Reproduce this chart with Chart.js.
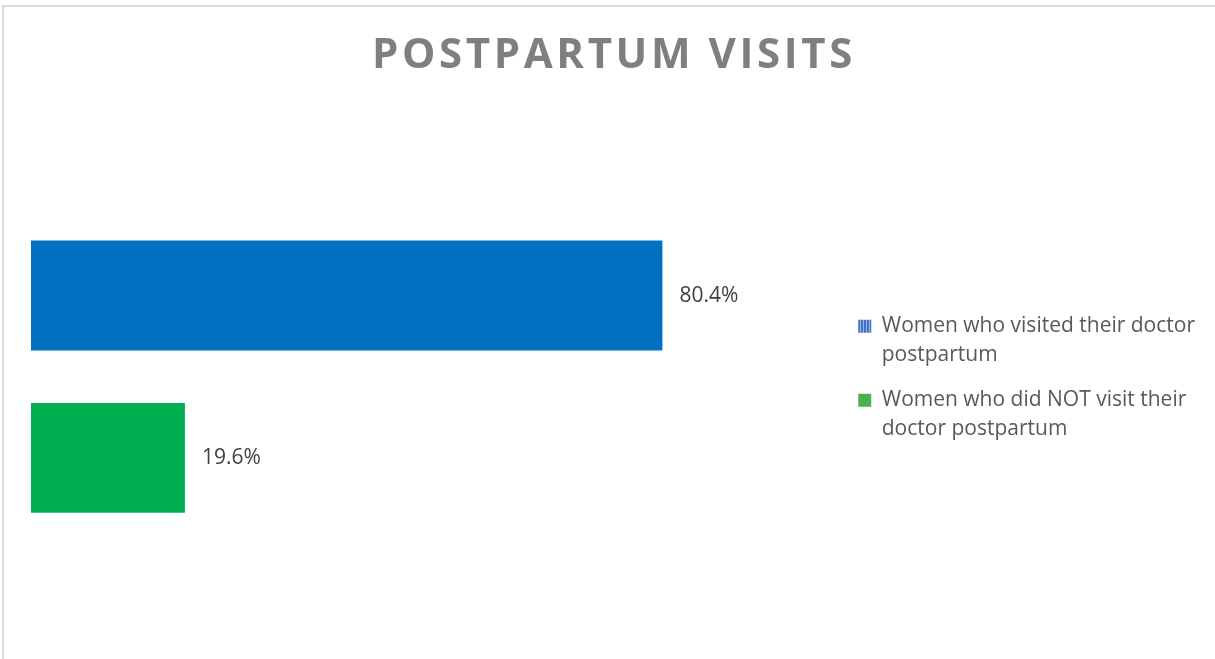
<!DOCTYPE html>
<html>
<head>
<meta charset="utf-8">
<script src="https://cdn.jsdelivr.net/npm/chart.js@4.4.1/dist/chart.umd.min.js"></script>
<style>
  html, body { margin: 0; padding: 0; background: #fff; overflow: hidden; }
  #wrap { position: relative; width: 1215px; height: 659px; }
  #frame { position: absolute; left: 2px; top: 5px; width: 1400px; height: 900px;
           border: 2px solid #d9d9d9; box-sizing: border-box; pointer-events: none; }
  canvas { position: absolute; left: 0; top: 0; }
</style>
</head>
<body>
<div id="wrap">
  <canvas id="c" width="1215" height="659"></canvas>
  <div id="frame"></div>
</div>
<script>
const chartTitle = "POSTPARTUM VISITS";
const categories = [
  ["Women who visited their doctor", "postpartum"],
  ["Women who did NOT visit their", "doctor postpartum"]
];
const values = [80.4, 19.6];
const valueLabels = ["80.4%", "19.6%"];
const barColors = ["#0070C0", "#00B050"];

function stripePattern() {
  const p = document.createElement('canvas');
  p.width = 3; p.height = 3;
  const g = p.getContext('2d');
  g.fillStyle = '#9fb6e2'; g.fillRect(0, 0, 3, 3);
  g.fillStyle = '#4472C4'; g.fillRect(0, 0, 2, 3);
  return g.createPattern(p, 'repeat');
}
const legendFills = [stripePattern(), "#4CAF50"];

const valueLabelPlugin = {
  id: 'valueLabels',
  afterDatasetsDraw(chart) {
    const ctx = chart.ctx;
    const meta = chart.getDatasetMeta(0);
    ctx.save();
    ctx.font = '21px "Open Sans"';
    ctx.fillStyle = '#404040';
    ctx.textAlign = 'left';
    ctx.textBaseline = 'middle';
    meta.data.forEach((bar, i) => {
      ctx.fillText(valueLabels[i], bar.x + 17, bar.y);
    });
    ctx.restore();
  }
};

const boxTweakPlugin = {
  id: 'boxTweak',
  afterLayout(chart) {
    const tb = chart.titleBlock;
    if (tb && !tb._patched) {
      const orig = tb.draw.bind(tb);
      tb.draw = function () {
        chart.ctx.save();
        chart.ctx.letterSpacing = '3.6px';
        chart.ctx.translate(-4, 0);
        orig();
        chart.ctx.restore();
      };
      tb._patched = true;
    }
    const lg = chart.legend;
    if (lg && !lg._patched) {
      const origL = lg.draw.bind(lg);
      lg.draw = function () {
        chart.ctx.save();
        chart.ctx.translate(0, 5);
        origL();
        chart.ctx.restore();
      };
      lg._patched = true;
    }
  }
};

new Chart(document.getElementById('c'), {
  type: 'bar',
  data: {
    labels: categories,
    datasets: [{
      data: values,
      backgroundColor: barColors,
      borderWidth: 0,
      categoryPercentage: 1,
      barPercentage: 0.677
    }]
  },
  plugins: [valueLabelPlugin, boxTweakPlugin],
  options: {
    indexAxis: 'y',
    responsive: false,
    animation: false,
    devicePixelRatio: 1,
    layout: { padding: { left: 31, right: 10, top: 0, bottom: 120 } },
    scales: {
      x: { display: false, min: 0, max: 103.3 },
      y: { display: false, offset: true }
    },
    plugins: {
      tooltip: { enabled: false },
      title: {
        display: true,
        text: chartTitle,
        color: '#7f7f7f',
        font: { family: '"Open Sans"', size: 42, weight: 'bold', lineHeight: 1.2 },
        padding: { top: 31, bottom: 133 }
      },
      legend: {
        display: true,
        position: 'right',
        align: 'center',
        fullSize: false,
        labels: {
          boxWidth: 13,
          boxHeight: 13,
          padding: 16,
          color: '#595959',
          font: { family: '"Open Sans"', size: 21, lineHeight: 1.38 },
          generateLabels(chart) {
            return categories.map((c, i) => ({
              text: c,
              fillStyle: legendFills[i],
              strokeStyle: 'transparent',
              lineWidth: 0,
              hidden: false,
              index: i,
              fontColor: '#595959'
            }));
          }
        }
      }
    }
  }
});
</script>
</body>
</html>
